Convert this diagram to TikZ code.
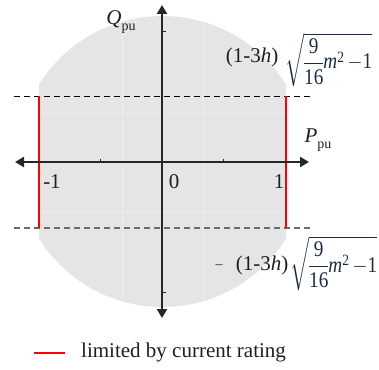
\RequirePackage{fix-cm}
\documentclass[tikz,border=0pt]{standalone}
\usepackage{amsmath}
\usepackage{graphicx}
\usepackage{fontspec}
\setmainfont{Liberation Serif}
\usetikzlibrary{arrows.meta}
\definecolor{circgray}{HTML}{E5E5E5}
\definecolor{gridgray}{HTML}{EDEDED}
\definecolor{axisgray}{HTML}{262626}
\definecolor{txtgray}{HTML}{1E1E1E}
\definecolor{navy}{HTML}{1C2A44}
\definecolor{dashgray}{HTML}{6A6A6A}
\newcommand{\sqexpr}[2]{\resizebox*{#1}{#2}{\nulldelimiterspace=0pt$\sqrt{\dfrac{\text{9}}{\text{16}}\text{\itshape m}^{\text{2}}\,{-}\text{1}}$}}
\begin{document}
\begin{tikzpicture}[x=1pt,y=-1pt,
  axis/.style={line width=2.4pt,draw=axisgray,{Triangle[length=9pt,width=10pt]}-{Triangle[length=9pt,width=10pt]}},
  dashtop/.style={draw=black,line width=0.8pt,dash pattern=on 6pt off 4pt},
  dashbot/.style={draw=dashgray,line width=1.2pt,dash pattern=on 6pt off 4pt},
  redline/.style={draw=red,line width=1.8pt},
  tick/.style={draw=axisgray,line width=0.8pt},
  lbl/.style={inner sep=0pt,text=txtgray,font=\fontsize{21}{24}\selectfont},
  formula/.style={inner sep=0pt,text=navy,font=\fontsize{21}{24}\selectfont}]
\useasboundingbox (0,0) rectangle (379,369);
% clipped disc
\begin{scope}
  \clip (39,0) rectangle (286,369);
  \fill[circgray] (162.5,161.5) circle (145.5pt);
  \begin{scope}
    \clip (162.5,161.5) circle (145.5pt);
    \draw[gridgray,line width=0.6pt] (122,0)--(122,369) (203,0)--(203,369)
      (0,113)--(379,113) (0,212)--(379,212);
  \end{scope}
\end{scope}
% dashed bounds
\coordinate (dtl) at (14,96);  \coordinate (dtr) at (310,96);
\coordinate (dbl) at (14,228); \coordinate (dbr) at (310,228);
\draw[dashtop] (dtl) -- (dtr);
\draw[dashbot] (dbl) -- (dbr);
% red limits
\coordinate (rlt) at (39,96);  \coordinate (rlb) at (39,228);
\coordinate (rrt) at (286,96); \coordinate (rrb) at (286,228);
\draw[redline] (rlt) -- (rlb);
\draw[redline] (rrt) -- (rrb);
% axes
\coordinate (xl) at (15,162); \coordinate (xr) at (309,162);
\coordinate (yt) at (162,5);  \coordinate (yb) at (162,318);
\draw[axis] (xl) -- (xr);
\draw[axis] (yt) -- (yb);
% ticks
\draw[tick] (100,162) -- (100,158.5);
\draw[tick] (223,162) -- (223,158.5);
\draw[tick] (162,31) -- (166,31);
\draw[tick] (162,292) -- (166,292);
% labels
\node[lbl] (q) at (121,22) {\textit{Q}\raisebox{-0.25em}{\fontsize{14}{14}\selectfont pu}};
\node[lbl] (p) at (318,140) {\textit{P}\raisebox{-0.25em}{\fontsize{14}{14}\selectfont pu}};
\node[lbl] (m1) at (52,182) {-1};
\node[lbl] (z) at (174,182) {0};
\node[lbl] (o) at (279,182) {1};
% formulas
\node[lbl] (ht) at (252,57) {(1-3\textit{h})};
\node[formula,anchor=west] (st) at (285,60) {\sqexpr{87pt}{54pt}};
\node[lbl] (neg) at (219,267) {\fontsize{14}{14}\selectfont –};
\node[lbl] (hb) at (262,265) {(1-3\textit{h})};
\node[formula,anchor=west] (sb) at (290,263.5) {\sqexpr{87pt}{54pt}};
% legend
\coordinate (la) at (34,353); \coordinate (lb) at (65,353);
\draw[redline] (la) -- (lb);
\node[lbl,anchor=west] (leg) at (81,352) {limited by current rating};
\end{tikzpicture}
\end{document}
